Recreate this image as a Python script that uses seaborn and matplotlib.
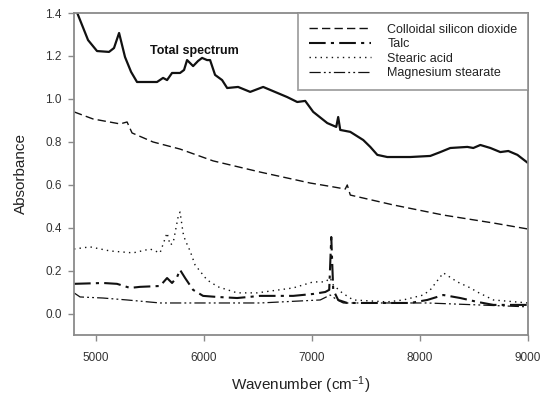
import matplotlib
matplotlib.use("Agg")
import matplotlib.pyplot as plt
import seaborn as sns
import numpy as np
import pandas as pd

# ---- data ----
total_x = [4800, 4830, 4930, 5013, 5124, 5170, 5217, 5272, 5328, 5383, 5568, 5624, 5661,
           5707, 5781, 5818, 5846, 5902, 5948, 5985, 6031, 6059, 6105, 6170, 6217, 6318,
           6430, 6550, 6772, 6865, 6939, 7013, 7143, 7226, 7244, 7263, 7356, 7476, 7541,
           7606, 7698, 7911, 8096, 8189, 8281, 8439, 8494, 8559, 8652, 8744, 8818, 8902, 9000]
total_y = [1.46, 1.40, 1.274, 1.223, 1.219, 1.237, 1.307, 1.195, 1.126, 1.079, 1.079, 1.098,
           1.088, 1.121, 1.121, 1.135, 1.181, 1.153, 1.177, 1.191, 1.181, 1.181, 1.112, 1.088,
           1.051, 1.056, 1.033, 1.056, 1.009, 0.986, 0.991, 0.940, 0.888, 0.870, 0.916, 0.856,
           0.847, 0.809, 0.777, 0.740, 0.730, 0.730, 0.735, 0.753, 0.772, 0.777, 0.772, 0.786,
           0.772, 0.753, 0.758, 0.740, 0.702]

sio2_x = [4800, 4976, 5226, 5291, 5337, 5531, 5781, 6087, 6522, 6985, 7198, 7309, 7328,
          7356, 7754, 8217, 8680, 9000]
sio2_y = [0.940, 0.907, 0.884, 0.893, 0.842, 0.800, 0.767, 0.712, 0.660, 0.609, 0.591,
          0.581, 0.600, 0.553, 0.507, 0.460, 0.423, 0.395]

talc_x = [4800, 5069, 5198, 5319, 5411, 5596, 5661, 5707, 5754, 5781, 5828, 5902, 5994,
          6124, 6309, 6522, 6828, 7013, 7124, 7161, 7180, 7198, 7244, 7328, 7606, 7911,
          8068, 8217, 8374, 8531, 8680, 9000]
talc_y = [0.140, 0.144, 0.140, 0.121, 0.126, 0.130, 0.167, 0.144, 0.172, 0.205, 0.167,
          0.112, 0.084, 0.079, 0.074, 0.084, 0.084, 0.093, 0.102, 0.112, 0.358, 0.112,
          0.065, 0.051, 0.051, 0.051, 0.065, 0.088, 0.074, 0.056, 0.042, 0.042]

stearic_x = [4800, 4948, 5133, 5346, 5504, 5596, 5661, 5689, 5717, 5763, 5781, 5809, 5828,
             5874, 5920, 6031, 6133, 6309, 6494, 6828, 7013, 7124, 7170, 7198, 7281, 7383,
             7698, 7846, 8031, 8096, 8217, 8346, 8467, 8531, 8680, 9000]
stearic_y = [0.302, 0.312, 0.293, 0.284, 0.302, 0.284, 0.377, 0.321, 0.330, 0.451, 0.474,
             0.377, 0.344, 0.293, 0.228, 0.158, 0.126, 0.098, 0.098, 0.121, 0.149, 0.149,
             0.167, 0.135, 0.098, 0.065, 0.056, 0.065, 0.088, 0.112, 0.191, 0.149, 0.121,
             0.102, 0.065, 0.051]

mgst_x = [4800, 4856, 5069, 5291, 5596, 6522, 7078, 7170, 7235, 7291, 8068, 9000]
mgst_y = [0.098, 0.079, 0.074, 0.065, 0.051, 0.051, 0.065, 0.088, 0.065, 0.051, 0.051, 0.033]

legend_labels = ["Colloidal silicon dioxide", "Talc", "Stearic acid", "Magnesium stearate"]
x_ticks = [5000, 6000, 7000, 8000, 9000]
y_ticks = [0.0, 0.2, 0.4, 0.6, 0.8, 1.0, 1.2, 1.4]

# ---- style ----
sns.set_theme(style="white")
plt.rcParams["font.family"] = ["Liberation Sans", "DejaVu Sans"]
plt.rcParams["mathtext.default"] = "regular"

fig = plt.figure(figsize=(5.47, 3.96), dpi=100)
ax = fig.add_axes([74 / 547, 61 / 396, 454 / 547, 322 / 396])

ink = "#111111"
sns.lineplot(x=total_x, y=total_y, ax=ax, color=ink, lw=1.6, estimator=None, sort=False,
             label="_nolegend_")
sns.lineplot(x=sio2_x, y=sio2_y, ax=ax, color=ink, lw=1.0, linestyle=(0, (6, 3)),
             estimator=None, sort=False, label=legend_labels[0])
sns.lineplot(x=talc_x, y=talc_y, ax=ax, color=ink, lw=1.5, linestyle=(0, (8, 2.5, 1.5, 2.5)),
             estimator=None, sort=False, label=legend_labels[1])
sns.lineplot(x=stearic_x, y=stearic_y, ax=ax, color=ink, lw=1.0, linestyle=(0, (1, 3)),
             estimator=None, sort=False, label=legend_labels[2])
sns.lineplot(x=mgst_x, y=mgst_y, ax=ax, color=ink, lw=0.9,
             linestyle=(0, (9, 2.5, 1.5, 2.5, 1.5, 2.5)),
             estimator=None, sort=False, label=legend_labels[3])

ax.set_xlim(4800, 9000)
ax.set_ylim(-0.098, 1.4)
ax.set_xticks(x_ticks)
ax.set_yticks(y_ticks)
ax.set_xticklabels([str(t) for t in x_ticks])
ax.set_yticklabels([f"{t:.1f}" for t in y_ticks])

spine_c = "#8a8a8a"
for s in ax.spines.values():
    s.set_color(spine_c)
    s.set_linewidth(1.3)
ax.tick_params(axis="both", which="major", direction="out", length=4, width=1,
               color=spine_c, labelsize=8.5, labelcolor="#333333", pad=5, bottom=True, left=True)
ax.tick_params(axis="x", pad=8)

ax.set_xlabel("Wavenumber (cm$^{-1}$)", fontsize=11, color="#222222", labelpad=8)
ax.set_ylabel("Absorbance", fontsize=11, color="#222222", labelpad=12)

ax.text(5911, 1.223, "Total spectrum", fontsize=9, fontweight="bold", color=ink,
        ha="center", va="center")

leg = ax.legend(loc="upper right", bbox_to_anchor=(1.0, 1.0), borderaxespad=0,
                frameon=True, fancybox=False, fontsize=9, handlelength=5.0,
                handletextpad=1.3, labelspacing=0.2, borderpad=0.85)
leg.get_frame().set_edgecolor(spine_c)
leg.get_frame().set_linewidth(1.3)
for t in leg.get_texts():
    t.set_color("#222222")

fig.savefig("out.png", dpi=100)
